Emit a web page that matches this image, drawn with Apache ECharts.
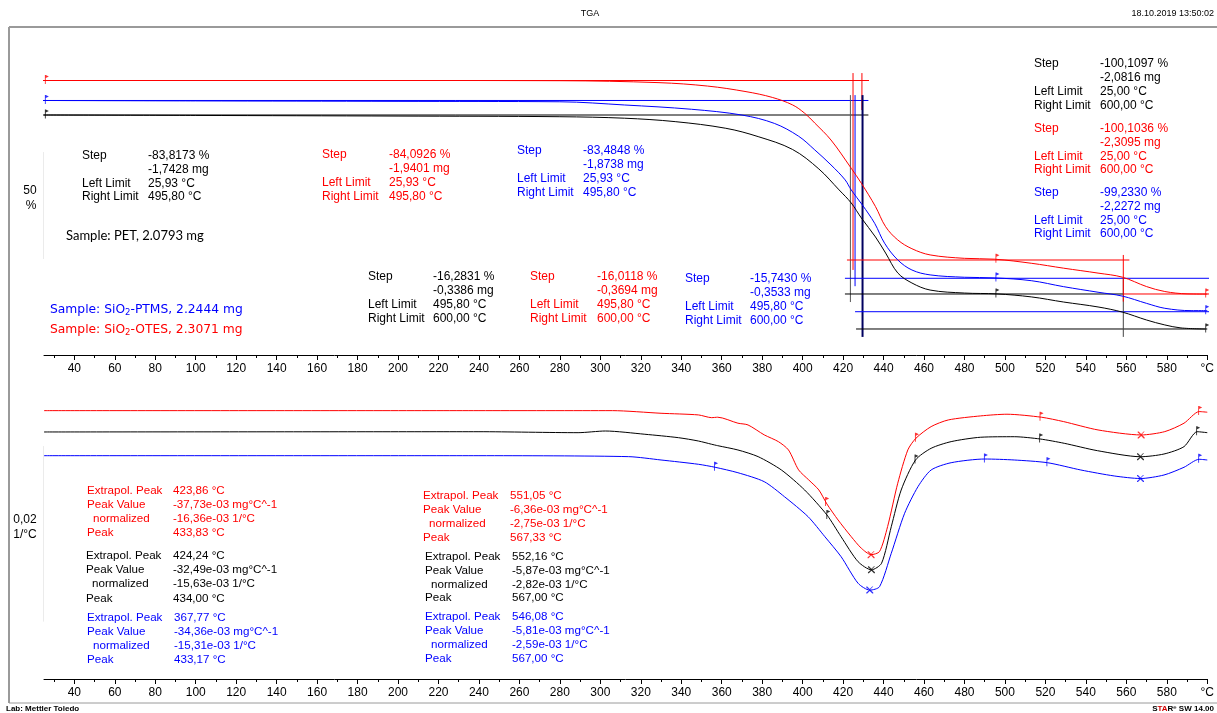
<!DOCTYPE html>
<html><head><meta charset="utf-8">
<script src="https://cdn.jsdelivr.net/npm/echarts@6/dist/echarts.min.js"></script>
<style>html,body{margin:0;padding:0;background:#fff}#c{width:1217px;height:713px}</style>
</head><body><div id="c"></div>
<script>
// ---------------- DATA ----------------
// temperature ticks / labels
const xLabelValues = [40,60,80,100,120,140,160,180,200,220,240,260,280,300,320,340,360,380,400,420,440,460,480,500,520,540,560,580,600];
const xMinorValues = [30,50,70,90,110,130,150,170,190,210,230,250,270,290,310,330,350,370,390,410,430,450,470,490,510,530,550,570,590];

// TGA curves (mass %, true values) – PET (black), SiO2-OTES (red), SiO2-PTMS (blue)
const tgaBlackT = [25,100,200,280,312,337,362,378,395,408,418,424,429,436,441,447,454,463,480,496,513,529,546,558,570,579,587,599];
const tgaBlackV = [100,99.8,99.5,99.2,98.5,96.9,93.8,89.9,83.9,74.8,65.0,58.9,51.9,43.0,35.5,26.2,21.5,18.2,16.8,16.4,15.0,12.6,10.3,7.9,4.2,1.9,0.5,0.0];
const tgaRedT = [25,100,200,280,329,353,372,385,395,401,406,414,424,429,436,441,447,454,463,480,495,513,529,546,558,570,579,590,600];
const tgaRedV = [100,100,100,99.9,99.0,97.4,94.8,92.1,88.6,84.7,80.1,72.2,59.0,52.0,41.1,31.7,25.5,21.4,18.5,16.9,16.5,14.6,12.3,10.0,8.1,3.7,1.4,0.3,0.2];
const tgaBlueT = [25,100,200,280,312,345,370,386,398,406,414,421,424,429.5,435.6,440.5,447,454,463,480,495,513,529,546,558,570,579,592,600];
const tgaBlueV = [100,99.8,99.6,99.4,97.9,95.9,93.2,89.3,83.3,76.9,69.9,62.9,58.2,51.2,42.6,33.3,25.5,20.8,18.5,17.4,17.1,15.8,13.0,10.4,8.6,5.2,2.9,1.8,1.8];
const tgaLimits = [25.93, 495.80, 599.5];

// DTG curves (1e-3 1/°C, normalized)
const dtgRedT = [25,240,306,330,348.5,355,358,368,373,381,388,393,398,403,408,412,417.5,424,429,433.8,438,442,447,452,456,463.5,472,488,501,518,529,546,567.3,579,588.5,596,600];
const dtgRedV = [0,0,0,-0.3,-0.49,-0.8,-0.75,-1.43,-1.63,-2.76,-3.53,-4.48,-6.75,-7.89,-9.03,-10.63,-12.45,-14.35,-15.67,-16.4,-16.05,-13.2,-8.27,-4.47,-3.14,-1.82,-1.06,-0.6,-0.41,-0.75,-1.25,-2.2,-2.77,-2.39,-1.43,-0.11,-0.18];
const dtgBlackT = [25,240,289,302.5,322,338.6,348.5,355,358,368,378,389.5,401,412,419,427.4,434,439,443.8,448.7,455.8,463.5,473.4,488,504.6,517.4,529.3,545.7,567,578.6,588.5,595,600];
const dtgBlackV = [0,0.03,-0.08,0.11,-0.26,-0.65,-1.03,-1.4,-1.56,-2.05,-2.81,-4.33,-6.61,-9.45,-11.93,-14.77,-15.7,-14.95,-10.79,-6.61,-3.19,-1.86,-1.1,-0.6,-0.54,-0.8,-1.29,-2.13,-2.82,-2.51,-1.67,0.03,-0.08];
const dtgBlueT = [25,240,314,330,348.5,356.7,368,381,391,402.7,411,419,427.4,433.2,438,443.8,450.4,457,463.5,473.4,490,504.6,521,537.5,554,567,578.6,588.5,596,600];
const dtgBlueV = [0,0,-0.11,-0.49,-0.98,-1.32,-1.94,-2.96,-4.67,-6.95,-9.23,-11.5,-14.53,-15.31,-14.92,-11.12,-6.56,-3.53,-1.63,-0.8,-0.38,-0.49,-0.8,-1.63,-2.31,-2.6,-2.2,-1.32,-0.41,-0.49];
const dtgRedFlags = [411.6, 456.0, 517.6, 596];
const dtgBlackFlags = [412.2, 455.8, 517.4, 595];
const dtgBlueFlags = [356.7, 490.1, 521.0, 596];
const dtgRedPeaks = [433.83, 567.33];
const dtgBlackPeaks = [434.00, 567.00];
const dtgBluePeaks = [433.17, 567.00];

// evaluation texts
const stepLabels = ['Step', '', 'Left Limit', 'Right Limit'];
const stepBlack1 = ['-83,8173 %', '-1,7428 mg', '25,93 °C', '495,80 °C'];
const stepRed1 = ['-84,0926 %', '-1,9401 mg', '25,93 °C', '495,80 °C'];
const stepBlue1 = ['-83,4848 %', '-1,8738 mg', '25,93 °C', '495,80 °C'];
const stepBlack2 = ['-16,2831 %', '-0,3386 mg', '495,80 °C', '600,00 °C'];
const stepRed2 = ['-16,0118 %', '-0,3694 mg', '495,80 °C', '600,00 °C'];
const stepBlue2 = ['-15,7430 %', '-0,3533 mg', '495,80 °C', '600,00 °C'];
const stepBlackAll = ['-100,1097 %', '-2,0816 mg', '25,00 °C', '600,00 °C'];
const stepRedAll = ['-100,1036 %', '-2,3095 mg', '25,00 °C', '600,00 °C'];
const stepBlueAll = ['-99,2330 %', '-2,2272 mg', '25,00 °C', '600,00 °C'];
const peakLabels = ['Extrapol. Peak', 'Peak Value', 'normalized', 'Peak'];
const peakRed1 = ['423,86 °C', '-37,73e-03 mg°C^-1', '-16,36e-03 1/°C', '433,83 °C'];
const peakBlack1 = ['424,24 °C', '-32,49e-03 mg°C^-1', '-15,63e-03 1/°C', '434,00 °C'];
const peakBlue1 = ['367,77 °C', '-34,36e-03 mg°C^-1', '-15,31e-03 1/°C', '433,17 °C'];
const peakRed2 = ['551,05 °C', '-6,36e-03 mg°C^-1', '-2,75e-03 1/°C', '567,33 °C'];
const peakBlack2 = ['552,16 °C', '-5,87e-03 mg°C^-1', '-2,82e-03 1/°C', '567,00 °C'];
const peakBlue2 = ['546,08 °C', '-5,81e-03 mg°C^-1', '-2,59e-03 1/°C', '567,00 °C'];

// ---------------- LAYOUT / STYLE ----------------
const RED = '#ff0000', BLUE = '#0000ff', BLACK = '#000000', NAVY = '#000060';
const TGA_OFF = {red: 16.12, blue: 6.78, black: 0};
const DTG_OFF = {red: 2.43, blue: -2.70, black: 0};
const FONT = "'Liberation Sans', Arial, sans-serif";

function pairs(T, V, off){ return T.map((t,i)=>[t, V[i] + off]); }
function interp(T, V, t){
  if (t <= T[0]) return V[0];
  for (let i=1;i<T.length;i++){ if (t <= T[i]) { const f=(t-T[i-1])/(T[i]-T[i-1]); return V[i-1]+f*(V[i]-V[i-1]); } }
  return V[V.length-1];
}
function marks(T, V, off, ts){ return ts.map(t=>[t, interp(T,V,t)+off]); }

const FLAG = 'path://M0,0 L0.9,0 L0.9,9 L0,9 Z M0.9,0 L4,1.5 L0.9,3 Z';
const CROSS = 'path://M0,0 L1.4,0 L5,3.6 L8.6,0 L10,0 L5.7,4.3 L10,8.6 L10,10 L8.6,10 L5,6.4 L1.4,10 L0,10 L0,8.6 L4.3,5 L0,1.4 Z';

const series = [];
function curve(grid, T, V, off, color, smooth){
  series.push({type:'line', xAxisIndex:grid*2, yAxisIndex:grid, data:pairs(T,V,off), showSymbol:false, smooth:smooth,
    lineStyle:{color, width:1}, itemStyle:{color}, silent:true, z:3});
}
function scatter(grid, data, color, sym, size, offset){
  series.push({type:'scatter', xAxisIndex:grid*2, yAxisIndex:grid, data, symbol:sym, symbolSize:size, symbolOffset:offset||[0,0],
    itemStyle:{color}, silent:true, z:5, clip:false});
}
function guide(grid, pts, color, width){
  series.push({type:'line', xAxisIndex:grid*2, yAxisIndex:grid, data:pts, showSymbol:false, clip:false,
    lineStyle:{color, width:width||1}, silent:true, z:2});
}

// TGA curves
curve(0, tgaRedT, tgaRedV, TGA_OFF.red, RED, 0.35);
curve(0, tgaBlueT, tgaBlueV, TGA_OFF.blue, BLUE, 0.35);
curve(0, tgaBlackT, tgaBlackV, TGA_OFF.black, BLACK, 0.35);
// TGA evaluation guides
guide(0, [[21.5,116.12],[432.8,116.12]], RED);
guide(0, [[21.5,106.78],[432.5,106.78]], BLUE);
guide(0, [[21.5,100],[432.5,100]], BLACK);
guide(0, [[423.6,109.3],[423.6,12.6]], '#555');
guide(0, [[424.9,119.6],[424.9,27.6]], RED);
guide(0, [[425.9,109.3],[425.9,20]], BLUE);
guide(0, [[429.3,119.6],[429.3,102.3]], RED);
guide(0, [[429.6,109.3],[429.6,-3.7]], NAVY, 2);
guide(0, [[421.9,32.24],[561.5,32.24]], RED);
guide(0, [[420.9,23.7],[603.4,23.7]], BLUE);
guide(0, [[420.9,16.36],[558.5,16.36]], BLACK);
guide(0, [[558.5,16.36],[603.4,16.36]], RED);
guide(0, [[425.9,8.08],[603.4,8.08]], BLUE);
guide(0, [[426.4,0],[600,0]], BLACK);
guide(0, [[558.5,23.8],[558.5,-3.7]], '#444');
guide(0, [[558.5,34.6],[558.5,12.8]], RED);
// TGA limit flags
scatter(0, marks(tgaRedT, tgaRedV, TGA_OFF.red, tgaLimits), RED, FLAG, [4,9], [1,-1]);
scatter(0, marks(tgaBlueT, tgaBlueV, TGA_OFF.blue, tgaLimits), BLUE, FLAG, [4,9], [1,-1]);
scatter(0, marks(tgaBlackT, tgaBlackV, TGA_OFF.black, tgaLimits), BLACK, FLAG, [4,9], [1,-1]);
// scale brackets
guide(0, [[22.8,82.7],[24.3,82.7],[24.3,32.7],[22.8,32.7]], BLACK);
guide(1, [[22.8,-1.6],[24.3,-1.6],[24.3,-21.6],[22.8,-21.6]], BLACK);

// DTG curves
curve(1, dtgRedT, dtgRedV, DTG_OFF.red, RED, 0.25);
curve(1, dtgBlackT, dtgBlackV, DTG_OFF.black, BLACK, 0.25);
curve(1, dtgBlueT, dtgBlueV, DTG_OFF.blue, BLUE, 0.25);
scatter(1, marks(dtgRedT, dtgRedV, DTG_OFF.red, dtgRedFlags), RED, FLAG, [4,9], [1,-1]);
scatter(1, marks(dtgBlackT, dtgBlackV, DTG_OFF.black, dtgBlackFlags), BLACK, FLAG, [4,9], [1,-1]);
scatter(1, marks(dtgBlueT, dtgBlueV, DTG_OFF.blue, dtgBlueFlags), BLUE, FLAG, [4,9], [1,-1]);
scatter(1, marks(dtgRedT, dtgRedV, DTG_OFF.red, dtgRedPeaks), RED, CROSS, 7);
scatter(1, marks(dtgBlackT, dtgBlackV, DTG_OFF.black, dtgBlackPeaks), BLACK, CROSS, 7);
scatter(1, marks(dtgBlueT, dtgBlueV, DTG_OFF.blue, dtgBluePeaks), BLUE, CROSS, 7);

function xAxes(grid){
  return [
    {type:'value', gridIndex:grid, min:25, max:600, position:'bottom',
      axisLine:{show:true, onZero:false, lineStyle:{color:'#000', width:1}},
      axisTick:{show:true, customValues:xLabelValues, length:5, lineStyle:{color:'#000'}},
      axisLabel:{show:true, customValues:xLabelValues, color:'#000', fontSize:12, fontFamily:FONT, margin:8,
        formatter:v=> v===600 ? '°C' : String(v)},
      splitLine:{show:false}},
    {type:'value', gridIndex:grid, min:25, max:600, position:'bottom',
      axisLine:{show:false, onZero:false}, axisLabel:{show:false}, splitLine:{show:false},
      axisTick:{show:true, customValues:xMinorValues, length:3, lineStyle:{color:'#000'}}}
  ];
}

// ---------------- TEXT ----------------
const graphics = [];
function txt(x, y, text, color, font, align){
  graphics.push({type:'text', x, y, silent:true, style:{text, fill:color, font, textAlign:align||'left', textVerticalAlign:'middle'}});
}
function block(x, y, vx, labels, values, color, font, dy, indent){
  labels.forEach((l,i)=>{
    if (l) txt(x + (indent && i===2 ? indent : 0), y + i*dy, l, color, font);
    txt(vx, y + i*dy, values[i], color, font);
  });
}
const F12 = "12px " + FONT;
const F11 = "11.6px " + FONT;
block(82, 156, 148, stepLabels, stepBlack1, BLACK, F12, 13.7);
block(322, 155, 389, stepLabels, stepRed1, RED, F12, 13.9);
block(517, 151, 583, stepLabels, stepBlue1, BLUE, F12, 13.9);
block(368, 277, 433, stepLabels, stepBlack2, BLACK, F12, 13.9);
block(530, 277, 597, stepLabels, stepRed2, RED, F12, 13.9);
block(685, 279, 750, stepLabels, stepBlue2, BLUE, F12, 13.8);
block(1034, 64, 1100, stepLabels, stepBlackAll, BLACK, F12, 13.8);
block(1034, 129, 1100, stepLabels, stepRedAll, RED, F12, 13.7);
block(1034, 193, 1100, stepLabels, stepBlueAll, BLUE, F12, 13.6);
block(87, 491, 173, peakLabels, peakRed1, RED, F11, 13.9, 6);
block(86, 556, 173, peakLabels, peakBlack1, BLACK, F11, 14.1, 6);
block(87, 618, 174, peakLabels, peakBlue1, BLUE, F11, 13.9, 6);
block(423, 496, 510, peakLabels, peakRed2, RED, F11, 13.8, 6);
block(425, 557, 512, peakLabels, peakBlack2, BLACK, F11, 13.7, 6);
block(425, 617, 512, peakLabels, peakBlue2, BLUE, F11, 14, 6);

txt(66, 236, 'Sample: PET, 2.0793 mg', BLACK, "13px Lato, 'Open Sans', sans-serif");
graphics.push({type:'text', x:50, y:310, silent:true, style:{text:'{a|Sample: SiO}{s|2}{a|-PTMS, 2.2444 mg}', textVerticalAlign:'middle',
  rich:{a:{fill:BLUE, font:"12.3px 'DejaVu Sans'"}, s:{fill:BLUE, font:"8.5px 'DejaVu Sans'", padding:[6,0,0,0]}}}});
graphics.push({type:'text', x:50, y:330, silent:true, style:{text:'{a|Sample: SiO}{s|2}{a|-OTES, 2.3071 mg}', textVerticalAlign:'middle',
  rich:{a:{fill:RED, font:"12.3px 'DejaVu Sans'"}, s:{fill:RED, font:"8.5px 'DejaVu Sans'", padding:[6,0,0,0]}}}});
// scale labels
txt(30, 191, '50', BLACK, F12, 'center');
txt(31, 206, '%', BLACK, F12, 'center');
txt(25, 520, '0,02', BLACK, F12, 'center');
txt(25, 535, '1/°C', BLACK, F12, 'center');
// header / footer
const NARROW = "'Liberation Sans Narrow', 'Liberation Sans', Arial, sans-serif";
txt(590, 14, 'TGA', BLACK, "9px " + NARROW, 'center');
txt(1214, 14, '18.10.2019 13:50:02', BLACK, "9px " + NARROW, 'right');
txt(6, 709, 'Lab: Mettler Toledo', BLACK, "bold 8px " + NARROW, 'left');
graphics.push({type:'text', x:1214, y:709, silent:true, style:{text:'{k|S}{r|TA}{k|R}{e|e}{k| SW 14.00}', textAlign:'right', textVerticalAlign:'middle',
  rich:{k:{fill:BLACK, font:"bold 8px " + NARROW}, r:{fill:'#d00000', font:"bold 8px " + NARROW}, e:{fill:BLACK, font:"6px " + NARROW, padding:[0,0,4,0]}}}});
// frame
graphics.push({type:'line', silent:true, shape:{x1:9, y1:27, x2:1217, y2:27}, style:{stroke:'#9a9a9a', lineWidth:2}});
graphics.push({type:'line', silent:true, shape:{x1:9, y1:27, x2:9, y2:703}, style:{stroke:'#9a9a9a', lineWidth:2}});
graphics.push({type:'line', silent:true, shape:{x1:9, y1:703, x2:1217, y2:703}, style:{stroke:'#9a9a9a', lineWidth:1}});

const chart = echarts.init(document.getElementById('c'), null, {renderer:'canvas'});
chart.setOption({
  animation:false,
  backgroundColor:'#ffffff',
  grid:[{left:44, right:7, top:30, bottom:358}, {left:44, right:7, top:395, bottom:34}],
  xAxis:[...xAxes(0), ...xAxes(1)],
  yAxis:[
    {type:'value', gridIndex:0, min:-12.15, max:139.72, show:false},
    {type:'value', gridIndex:1, min:-28.13, max:4.21, show:false}
  ],
  series,
  graphic: graphics
});
</script></body></html>
